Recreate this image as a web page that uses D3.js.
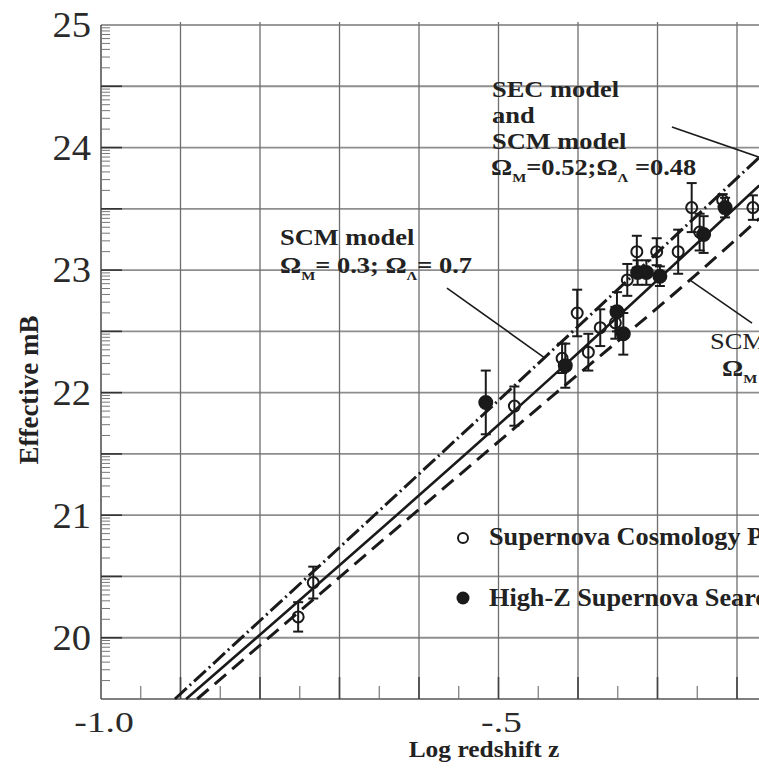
<!DOCTYPE html>
<meta charset="utf-8">
<head>
    <title>Effective mB vs Log redshift z</title>
    <style>
        body { margin: 0; background: #fff; }
        svg { display: block; font-family: "Liberation Serif", "Times New Roman", serif; }
    </style>
</head>
<div id="chart"></div>
<script src="https://d3js.org/d3.v7.min.js"></script>
<script>
    // axis ticks
    var xTicks = [-1.0, -0.5];
    var xTickLabels = ["-1.0", "-.5"];
    var yTicks = [20, 21, 22, 23, 24, 25];

    // Supernova Cosmology Project (open circles): log z, mB, error
    var scpZ   = [-0.752, -0.733, -0.480, -0.420, -0.401, -0.387, -0.372, -0.353, -0.338, -0.326, -0.301, -0.274, -0.257, -0.247, -0.218, -0.180];
    var scpMag = [20.17, 20.45, 21.89, 22.28, 22.65, 22.33, 22.53, 22.57, 22.92, 23.15, 23.15, 23.15, 23.51, 23.31, 23.57, 23.51];
    var scpErr = [0.12, 0.13, 0.16, 0.12, 0.19, 0.15, 0.15, 0.13, 0.13, 0.13, 0.11, 0.18, 0.20, 0.15, 0.05, 0.10];

    // High-Z Supernova Search (filled circles)
    var hzsZ   = [-0.516, -0.416, -0.351, -0.343, -0.325, -0.314, -0.297, -0.242, -0.215];
    var hzsMag = [21.92, 22.22, 22.66, 22.48, 22.98, 22.98, 22.95, 23.29, 23.51];
    var hzsErr = [0.26, 0.18, 0.16, 0.17, 0.10, 0.10, 0.08, 0.15, 0.08];

    // model curves
    var secZ     = [-0.893, -0.419, -0.172];
    var secMag   = [19.5, 22.21, 23.69];
    var scm03Z   = [-0.907, -0.443, -0.172];
    var scm03Mag = [19.5, 22.28, 23.92];
    var scm1Z    = [-0.879, -0.429, -0.259, -0.172];
    var scm1Mag  = [19.5, 21.99, 22.92, 23.42];

    // leader lines for the labels (data units)
    var leaderSec   = [[-0.2818, 24.167], [-0.1585, 23.89]];
    var leaderScm03 = [[-0.5648, 22.853], [-0.4415, 22.282]];
    var leaderScm1  = [[-0.2591, 22.918], [-0.1811, 22.567]];

    var width = 759, height = 772;

    var svg = d3.select("#chart")
      .append("svg")
        .attr("width", width)
        .attr("height", height);

    var x = d3.scaleLinear().domain([-1.0, -0.2]).range([101, 737]);
    var y = d3.scaleLinear().domain([19.5, 25]).range([699, 25]);

    var ink = "#1a1a1a";

    // grid
    var xGrid = x.ticks(8).filter(function(d) { return d > -1; });
    var yGrid = d3.range(20, 25, 0.5);
    svg.append("g").selectAll("line").data(yGrid).enter().append("line")
        .attr("x1", x(-1)).attr("x2", width)
        .attr("y1", function(d) { return y(d); }).attr("y2", function(d) { return y(d); })
        .attr("stroke", "#8e8e8e").attr("stroke-width", 1.8);
    svg.append("g").selectAll("line").data(xGrid).enter().append("line")
        .attr("x1", function(d) { return x(d); }).attr("x2", function(d) { return x(d); })
        .attr("y1", y(25) - 3).attr("y2", y(19.5))
        .attr("stroke", "#6e6e6e").attr("stroke-width", 1.3);

    // frame
    svg.append("line").attr("x1", x(-1)).attr("x2", width).attr("y1", y(25)).attr("y2", y(25))
        .attr("stroke", "#777").attr("stroke-width", 1.6);
    svg.append("line").attr("x1", x(-1)).attr("x2", width).attr("y1", y(19.5)).attr("y2", y(19.5))
        .attr("stroke", "#555").attr("stroke-width", 1.6);
    svg.append("line").attr("x1", x(-1)).attr("x2", x(-1)).attr("y1", y(25)).attr("y2", y(19.5))
        .attr("stroke", "#555").attr("stroke-width", 1.6);

    // y minor ticks: log spaced inside every half magnitude
    var yMinor = [];
    d3.range(19.5, 25, 0.5).forEach(function(b) {
        d3.range(2, 10).forEach(function(k) { yMinor.push(b + 0.5 * Math.log10(k)); });
    });
    svg.append("g").selectAll("line").data(yMinor).enter().append("line")
        .attr("x1", x(-1)).attr("x2", x(-1) + 9)
        .attr("y1", function(d) { return y(d); }).attr("y2", function(d) { return y(d); })
        .attr("stroke", "#777").attr("stroke-width", 1);
    svg.append("g").selectAll("line").data(d3.range(20, 25, 0.5)).enter().append("line")
        .attr("x1", x(-1)).attr("x2", x(-1) + 21)
        .attr("y1", function(d) { return y(d); }).attr("y2", function(d) { return y(d); })
        .attr("stroke", "#333").attr("stroke-width", 1.6);

    // x minor ticks
    var xMinor = d3.range(-0.95, -0.15, 0.1);
    svg.append("g").selectAll("line").data(xMinor).enter().append("line")
        .attr("x1", function(d) { return x(d); }).attr("x2", function(d) { return x(d); })
        .attr("y1", y(19.5)).attr("y2", y(19.5) - 13)
        .attr("stroke", "#777").attr("stroke-width", 1.2);
    svg.append("g").selectAll("line").data(xGrid).enter().append("line")
        .attr("x1", function(d) { return x(d); }).attr("x2", function(d) { return x(d); })
        .attr("y1", y(19.5)).attr("y2", y(19.5) - 22)
        .attr("stroke", "#444").attr("stroke-width", 1.6);

    // axes labels via d3 axes
    var yAxis = svg.append("g")
        .attr("transform", "translate(" + x(-1) + ",0)")
        .call(d3.axisLeft(y).tickValues(yTicks).tickSize(0).tickPadding(11).tickFormat(d3.format("d")));
    yAxis.select(".domain").remove();
    yAxis.selectAll("text")
        .attr("font-family", "Liberation Serif, serif")
        .attr("font-size", 35).attr("fill", "#2a2a2a")
        .attr("dy", "0.34em")
        .attr("transform", "scale(1.1,1)")
        .attr("x", -10 / 1.1);

    var xAxis = svg.append("g")
        .attr("transform", "translate(0," + y(19.5) + ")")
        .call(d3.axisBottom(x).tickValues(xTicks).tickSize(0).tickPadding(12)
            .tickFormat(function(d, i) { return xTickLabels[i]; }));
    xAxis.select(".domain").remove();
    xAxis.selectAll(".tick").attr("transform", function(d) { return "translate(" + (x(d) + 3) + ",0)"; });
    xAxis.selectAll("text")
        .attr("font-family", "Liberation Serif, serif")
        .attr("font-size", 29).attr("fill", "#2a2a2a")
        .attr("transform", "scale(1.3,1)");

    function stretchText(px, py, sx, size, weight) {
        return svg.append("text")
            .attr("transform", "translate(" + px + "," + py + ") scale(" + sx + ",1)")
            .attr("font-size", size)
            .attr("font-weight", weight)
            .attr("fill", "#222");
    }

    stretchText(484, 757, 1.06, 24, "bold").attr("text-anchor", "middle").text("Log redshift z");
    svg.append("text")
        .attr("transform", "translate(38,390) rotate(-90)")
        .attr("text-anchor", "middle")
        .attr("font-size", 27).attr("font-weight", "bold").attr("fill", "#222")
        .text("Effective mB");

    // model curves
    var line = d3.line()
        .x(function(d) { return x(d[0]); })
        .y(function(d) { return y(d[1]); })
        .curve(d3.curveMonotoneX);

    svg.append("path").datum(d3.zip(scm03Z, scm03Mag))
        .attr("d", line).attr("fill", "none").attr("stroke", ink)
        .attr("stroke-width", 3).attr("stroke-dasharray", "16,4,2,4");
    svg.append("path").datum(d3.zip(secZ, secMag))
        .attr("d", line).attr("fill", "none").attr("stroke", ink)
        .attr("stroke-width", 2.6);
    svg.append("path").datum(d3.zip(scm1Z, scm1Mag))
        .attr("d", line).attr("fill", "none").attr("stroke", ink)
        .attr("stroke-width", 3).attr("stroke-dasharray", "15,8");

    // leader lines
    [leaderSec, leaderScm03, leaderScm1].forEach(function(l) {
        svg.append("path").datum(l)
            .attr("d", d3.line().x(function(d) { return x(d[0]); }).y(function(d) { return y(d[1]); }))
            .attr("stroke", ink).attr("stroke-width", 1.6).attr("fill", "none");
    });

    // error bars + points
    function drawSeries(zs, mags, errs, filled) {
        var data = d3.zip(zs, mags, errs);
        var g = svg.append("g");
        var eb = g.selectAll(".eb").data(data).enter().append("g");
        eb.append("line")
            .attr("x1", function(d) { return x(d[0]); }).attr("x2", function(d) { return x(d[0]); })
            .attr("y1", function(d) { return y(d[1] - d[2]); }).attr("y2", function(d) { return y(d[1] + d[2]); })
            .attr("stroke", ink).attr("stroke-width", 2);
        [1, -1].forEach(function(s) {
            eb.append("line")
                .attr("x1", function(d) { return x(d[0]) - 5; }).attr("x2", function(d) { return x(d[0]) + 5; })
                .attr("y1", function(d) { return y(d[1] + s * d[2]); }).attr("y2", function(d) { return y(d[1] + s * d[2]); })
                .attr("stroke", ink).attr("stroke-width", 2);
        });
        g.selectAll("circle").data(data).enter().append("circle")
            .attr("cx", function(d) { return x(d[0]); })
            .attr("cy", function(d) { return y(d[1]); })
            .attr("r", filled ? 6.5 : 5.5)
            .attr("fill", filled ? ink : "none")
            .attr("stroke", ink).attr("stroke-width", 2);
    }
    drawSeries(scpZ, scpMag, scpErr, false);
    drawSeries(hzsZ, hzsMag, hzsErr, true);

    // annotations
    function omegaLine(t, sub1, val1, sub2, val2) {
        t.append("tspan").text("Ω");
        t.append("tspan").attr("font-size", 13).attr("dy", 7).text(sub1);
        t.append("tspan").attr("dy", -7).text(val1);
        t.append("tspan").text("Ω");
        t.append("tspan").attr("font-size", 13).attr("dy", 7).text(sub2);
        t.append("tspan").attr("dy", -7).text(val2);
    }

    stretchText(492, 97, 1.15, 23, "bold").text("SEC model");
    stretchText(492, 123, 1.15, 23, "bold").text("and");
    stretchText(492, 149, 1.15, 23, "bold").text("SCM model");
    omegaLine(stretchText(491, 175, 1.15, 23, "bold"), "M", "=0.52;", "Λ", " =0.48");

    stretchText(280, 245, 1.15, 23, "bold").text("SCM model");
    omegaLine(stretchText(280, 273, 1.15, 23, "bold"), "M", "= 0.3; ", "Λ", "= 0.7");

    stretchText(710, 349, 1.15, 23, "normal").text("SCM model");
    omegaLine(stretchText(722, 376, 1.15, 23, "bold"), "M", " =1; ", "Λ", "=0");

    // legend
    svg.append("circle").attr("cx", 463).attr("cy", 538).attr("r", 5)
        .attr("fill", "none").attr("stroke", ink).attr("stroke-width", 2);
    stretchText(489, 545, 1.05, 25, "bold").text("Supernova Cosmology Project");
    svg.append("circle").attr("cx", 463).attr("cy", 598).attr("r", 6.5).attr("fill", ink);
    stretchText(489, 606, 1.05, 25, "bold").text("High-Z Supernova Search");
</script>
